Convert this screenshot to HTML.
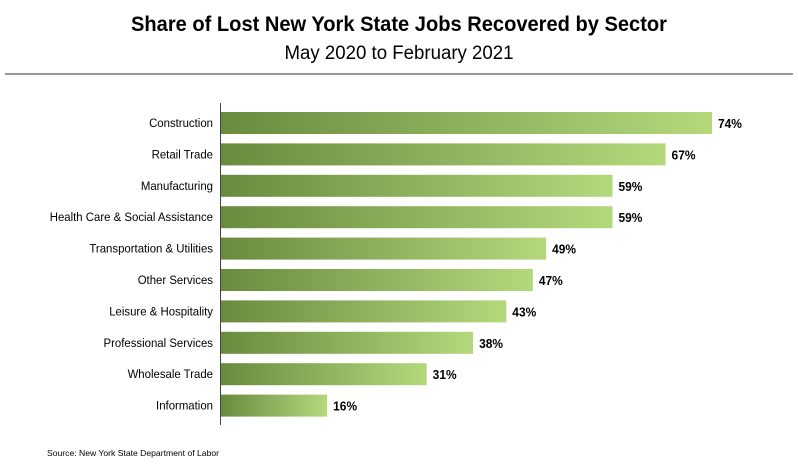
<!DOCTYPE html>
<html><head><meta charset="utf-8"><style>
body{margin:0;background:#fff;}
svg{display:block;font-family:"Liberation Sans",sans-serif;}
</style></head><body>
<svg id="chart" width="798" height="474">
<defs><linearGradient id="g" x1="0" x2="1" y1="0" y2="0"><stop offset="0" stop-color="#6a8a3e"/><stop offset="1" stop-color="#b5d87c"/></linearGradient></defs>
<text x="399" y="31" text-anchor="middle" font-size="21" font-weight="bold" textLength="536" lengthAdjust="spacingAndGlyphs">Share of Lost New York State Jobs Recovered by Sector</text>
<text x="399" y="59" text-anchor="middle" font-size="19" textLength="229" lengthAdjust="spacingAndGlyphs">May 2020 to February 2021</text>
<line x1="5" y1="74" x2="793" y2="74" stroke="#333" stroke-width="1"/>
<g id="bars"></g>
<line x1="220.5" y1="103" x2="220.5" y2="425" stroke="#444" stroke-width="1"/>
<text x="47" y="456" font-size="8.5" textLength="172" lengthAdjust="spacingAndGlyphs">Source: New York State Department of Labor</text>
</svg>
<script>
const categories=["Construction","Retail Trade","Manufacturing","Health Care & Social Assistance","Transportation & Utilities","Other Services","Leisure & Hospitality","Professional Services","Wholesale Trade","Information"];
const values=[74,67,59,59,49,47,43,38,31,16];
const labels=["74%","67%","59%","59%","49%","47%","43%","38%","31%","16%"];
const NS="http://www.w3.org/2000/svg";
const g=document.getElementById('bars');
const x=v=>221+v*(491/74);
const y=i=>112+i*31.4;
const bh=22;
categories.forEach((c,i)=>{
  const r=document.createElementNS(NS,'rect');
  r.setAttribute('x',221);r.setAttribute('y',y(i));
  r.setAttribute('width',x(values[i])-221);r.setAttribute('height',bh);
  r.setAttribute('fill','url(#g)');
  
  
  g.appendChild(r);
  const t=document.createElementNS(NS,'text');
  t.setAttribute('x',213);t.setAttribute('y',y(i)+bh/2+4);
  t.setAttribute('text-anchor','end');t.setAttribute('font-size','12');
  t.setAttribute('transform','translate(213,0) scale(0.95,1) translate(-213,0)');
  t.textContent=c;
  
  
  g.appendChild(t);
  const v=document.createElementNS(NS,'text');
  const vx=x(values[i])+6;
  v.setAttribute('x',vx);v.setAttribute('y',y(i)+bh/2+5);
  v.setAttribute('font-size','13');v.setAttribute('font-weight','bold');
  v.setAttribute('transform','translate('+vx+',0) scale(0.92,1) translate('+(-vx)+',0)');
  v.textContent=labels[i];
  
  
  g.appendChild(v);
});
</script>
</body></html>
